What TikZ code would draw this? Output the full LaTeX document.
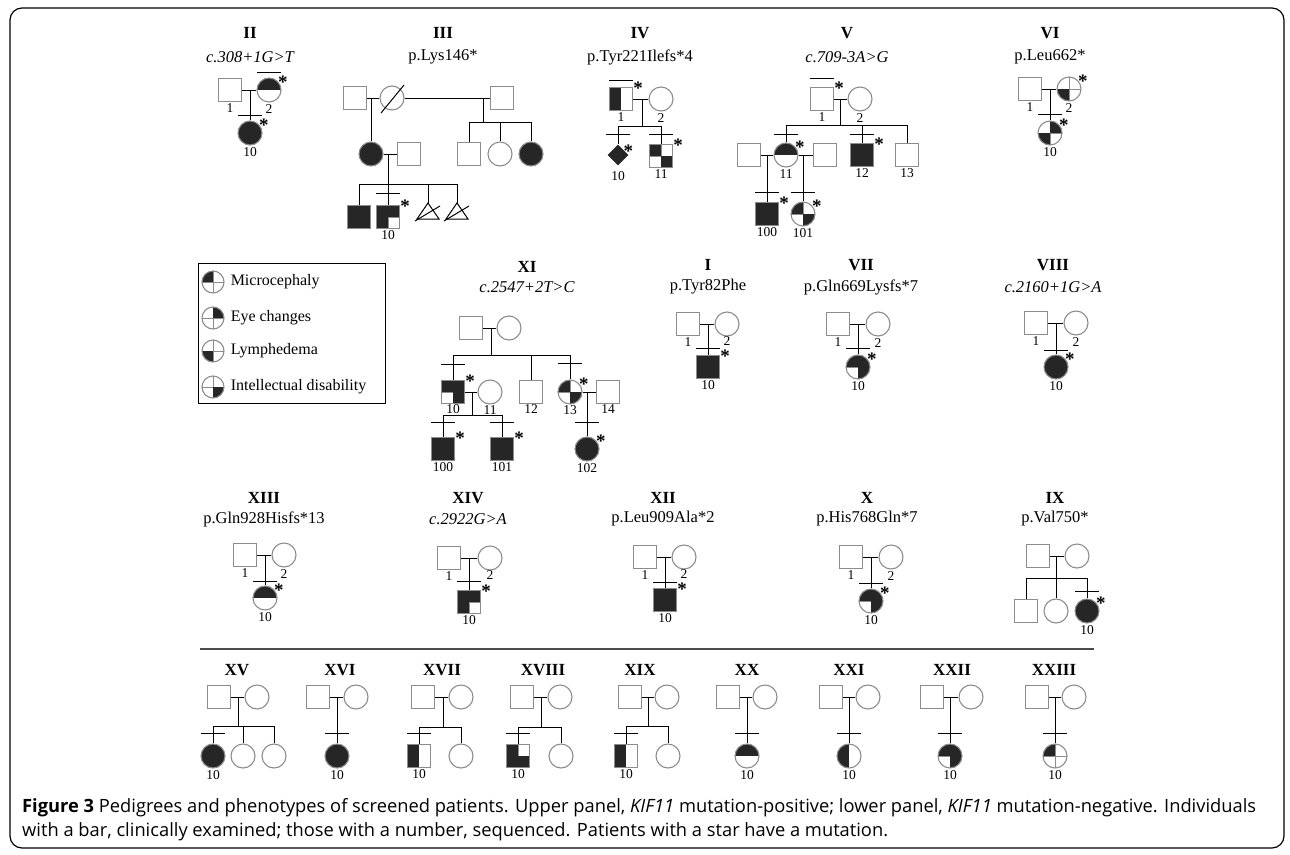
\documentclass[tikz,border=0pt]{standalone}
\usepackage{fontspec}
\setmainfont{Liberation Serif}
\newfontfamily\capfont{Open Sans}
\usetikzlibrary{shapes.geometric,calc,positioning}
\definecolor{pedfill}{HTML}{262626}
\definecolor{pedgray}{HTML}{8C8C8C}
% bar over a clinically examined individual
\newcommand{\exam}[2]{\draw[pedline] ([xshift=-12pt,yshift=#2]#1.north) -- ([xshift=12pt,yshift=#2]#1.north);}
% star for a mutation carrier
\newcommand{\mutn}[1]{\node[mutstar] (#1s) at ([xshift=5pt,yshift=-1.5pt]#1.north east) {*};}

\begin{document}
\begin{tikzpicture}[x=1pt,y=-1pt,label distance=1pt,
    pedline/.style={line width=1pt,black},
    male/.style={rectangle,draw=pedgray,line width=1.1pt,minimum size=23pt,inner sep=0pt},
    female/.style={circle,draw=pedgray,line width=1.1pt,minimum size=24pt,inner sep=0pt},
    aff/.style={fill=pedfill},
    quads/.style={path picture={
      \draw[pedgray,line width=0.8pt] (path picture bounding box.north) -- (path picture bounding box.south)
        (path picture bounding box.west) -- (path picture bounding box.east);
      \foreach \q in {#1} \fill[pedfill] (path picture bounding box.center) rectangle (path picture bounding box.\q);}},
    halves/.style={path picture={
      \foreach \q in {#1} \fill[pedfill] (path picture bounding box.center) rectangle (path picture bounding box.\q);}},
    title/.style={font=\fontsize{17}{17}\selectfont\bfseries},
    mut/.style={font=\fontsize{16.5}{17}\selectfont},
    mutit/.style={font=\fontsize{16.5}{17}\selectfont\itshape},
    numlbl/.style={font=\fontsize{13.5}{13.5}\selectfont,inner sep=0.5pt},
    mutstar/.style={font=\fontsize{19}{19}\selectfont\bfseries,inner sep=0pt},
    legtext/.style={font=\fontsize{16}{16}\selectfont,inner sep=0pt,anchor=west}]
  \useasboundingbox (0,0) rectangle (1290,854);
  % Frame
  \draw[line width=1.2pt,rounded corners=12pt] (10,8) rectangle (1284,848);

  % Pedigree II
  \node[title] (tII) at (250,33) {II};
  \node[mutit] (mII) at (250,57) {c.308+1G>T};
  \node[male,label={[numlbl]below:1}] (II1) at (230,90) {};
  \node[female,halves={north west,north east},label={[numlbl]below:2}] (II2) at (269,90) {};
  \node[female,aff,label={[numlbl]below:10}] (II10) at (250,133) {};
  \coordinate (II12) at (II10 |- II1);
  \draw[pedline] (II1) -- (II2);
  \draw[pedline] (II12) -- (II10);
  \exam{II2}{5pt} \exam{II10}{5pt}
  \mutn{II2} \mutn{II10}

  % Pedigree III
  \node[title] (tIII) at (443,33) {III};
  \node[mut] (mIII) at (443,57) {p.Lys146*};
  \node[male] (IIIa) at (355,98) {};
  \node[female] (IIIb) at (392,98) {};
  \node[male] (IIIc) at (502,98) {};
  \node[female,aff] (IIId) at (371,154) {};
  \node[male] (IIIe) at (409,154) {};
  \node[male] (IIIf) at (469,154) {};
  \node[female] (IIIg) at (500,154) {};
  \node[female,aff] (IIIh) at (531,154) {};
  \node[male,aff] (III1) at (359,217) {};
  \node[male,quads={north west,north east,south west},label={[numlbl]below:10}] (III10) at (388,217) {};
  \coordinate (IIIm1) at (428,203);
  \coordinate (IIIm2) at (457,203);
  \draw[pedline] (IIIa) -- (IIIb);
  \draw[pedline] (IIIb) -- (IIIc);
  \draw[pedline] ($(IIIb)+(-11,15)$) -- ($(IIIb)+(12,-13)$);
  \coordinate (IIIab) at (IIId |- IIIa);
  \draw[pedline] (IIIab) -- (IIId);
  \coordinate (IIIbc) at (483,98);
  \coordinate (IIIs1) at (483,122);
  \draw[pedline] (IIIbc) -- (IIIs1);
  \draw[pedline] (IIIf |- IIIs1) -- (IIIh |- IIIs1);
  \foreach \c in {IIIf,IIIg,IIIh} \draw[pedline] (\c |- IIIs1) -- (\c);
  \draw[pedline] (IIId) -- (IIIe);
  \coordinate (IIIde) at (388,154);
  \coordinate (IIIs2) at (388,184);
  \draw[pedline] (IIIde) -- (IIIs2);
  \draw[pedline] (III1 |- IIIs2) -- (IIIm2 |- IIIs2);
  \foreach \c in {III1,III10,IIIm1,IIIm2} \draw[pedline] (\c |- IIIs2) -- (\c);
  \foreach \c in {IIIm1,IIIm2} {
    \draw[pedline] (\c) -- ++(-11,16) -- ++(22,0) -- cycle;
    \draw[pedline] ($(\c)+(-13,18)$) -- ($(\c)+(12,3)$);
  }
  \exam{III10}{11pt}
  \mutn{III10}

  % Pedigree IV
  \node[title] (tIV) at (640,33) {IV};
  \node[mut] (mIV) at (640,57) {p.Tyr221Ilefs*4};
  \node[male,halves={north west,south west},label={[numlbl]below:1}] (IV1) at (621,99) {};
  \node[female,label={[numlbl]below:2}] (IV2) at (661,99) {};
  \node[diamond,fill=pedfill,minimum size=21pt,inner sep=0pt,label={[numlbl,label distance=5pt]below:10}] (IV10) at (618,155) {};
  \node[male,quads={north west,south east},label={[numlbl]below:11}] (IV11) at (661,156) {};
  \coordinate (IV12) at (642,99);
  \coordinate (IVs) at (642,126);
  \draw[pedline] (IV1) -- (IV2);
  \draw[pedline] (IV12) -- (IVs);
  \draw[pedline] (IV10 |- IVs) -- (IV11 |- IVs);
  \foreach \c in {IV10,IV11} \draw[pedline] (\c |- IVs) -- (\c);
  \exam{IV1}{6pt} \exam{IV10}{10pt} \exam{IV11}{9pt}
  \mutn{IV1} \mutn{IV10} \mutn{IV11}

  % Pedigree V
  \node[title] (tV) at (847,33) {V};
  \node[mutit] (mV) at (847,57) {c.709-3A>G};
  \node[male,label={[numlbl]below:1}] (V1) at (822,99) {};
  \node[female,label={[numlbl]below:2}] (V2) at (860,99) {};
  \node[male] (Va) at (749,155) {};
  \node[female,halves={north west,north east},label={[numlbl]below:11}] (V11) at (786,155) {};
  \node[male] (Vb) at (825,155) {};
  \node[male,aff,label={[numlbl]below:12}] (V12) at (862,155) {};
  \node[male,label={[numlbl]below:13}] (V13) at (907,155) {};
  \node[male,aff,label={[numlbl]below:100}] (V100) at (767,214) {};
  \node[female,quads={north west,south east},label={[numlbl]below:101}] (V101) at (803,214) {};
  \coordinate (V12c) at (840,99);
  \coordinate (Vs) at (840,125);
  \draw[pedline] (V1) -- (V2);
  \draw[pedline] (V12c) -- (Vs);
  \draw[pedline] (V11 |- Vs) -- (V13 |- Vs);
  \foreach \c in {V11,V12,V13} \draw[pedline] (\c |- Vs) -- (\c);
  \draw[pedline] (Va) -- (V11);
  \draw[pedline] (V11) -- (Vb);
  \draw[pedline] (V100 |- Va) -- (V100);
  \draw[pedline] (V101 |- Vb) -- (V101);
  \exam{V1}{8pt} \exam{V11}{8pt} \exam{V12}{8pt} \exam{V100}{9pt} \exam{V101}{9pt}
  \mutn{V1} \mutn{V11} \mutn{V12} \mutn{V100} \mutn{V101}

  % Pedigree VI
  \node[title] (tVI) at (1050,33) {VI};
  \node[mut] (mVI) at (1050,57) {p.Leu662*};
  \node[male,label={[numlbl]below:1}] (VI1) at (1030,89) {};
  \node[female,quads={south west},label={[numlbl]below:2}] (VI2) at (1069,89) {};
  \node[female,quads={north east,south west},label={[numlbl]below:10}] (VI10) at (1050,133) {};
  \coordinate (VI12) at (VI10 |- VI1);
  \draw[pedline] (VI1) -- (VI2);
  \draw[pedline] (VI12) -- (VI10);
  \exam{VI10}{6pt}
  \mutn{VI2} \mutn{VI10}

  % Legend
  \node[draw,line width=1pt,minimum width=187pt,minimum height=140pt] (legbox) at (291.5,333) {};
  \node[female,quads={north west},minimum size=22pt] (leg1) at (213,282) {};
  \node[female,quads={north east},minimum size=22pt] (leg2) at (213,318) {};
  \node[female,quads={south west},minimum size=22pt] (leg3) at (213,351) {};
  \node[female,quads={south east},minimum size=22pt] (leg4) at (213,387) {};
  \node[legtext,right=6pt of leg1] (legt1) {Microcephaly};
  \node[legtext,right=6pt of leg2] (legt2) {Eye changes};
  \node[legtext,right=6pt of leg3] (legt3) {Lymphedema};
  \node[legtext,right=6pt of leg4] (legt4) {Intellectual disability};

  % Pedigree XI
  \node[title] (tXI) at (527,267) {XI};
  \node[mutit] (mXI) at (527,287) {c.2547+2T>C};
  \node[male] (XIa) at (471,328) {};
  \node[female] (XIb) at (509,328) {};
  \node[male,quads={north west,north east,south east},label={[numlbl,label distance=0pt]below:10}] (XI10) at (453,392) {};
  \node[female,label={[numlbl,label distance=0pt]below:11}] (XI11) at (490,392) {};
  \node[male,label={[numlbl,label distance=0pt]below:12}] (XI12) at (531,392) {};
  \node[female,quads={north west,south east},label={[numlbl,label distance=0pt]below:13}] (XI13) at (570,392) {};
  \node[male,label={[numlbl,label distance=0pt]below:14}] (XI14) at (608,392) {};
  \node[male,aff,label={[numlbl]below:100}] (XI100) at (443,449) {};
  \node[male,aff,label={[numlbl]below:101}] (XI101) at (502,449) {};
  \node[female,aff,label={[numlbl]below:102}] (XI102) at (587,449) {};
  \coordinate (XIab) at (491,328);
  \coordinate (XIs1) at (491,355);
  \draw[pedline] (XIa) -- (XIb);
  \draw[pedline] (XIab) -- (XIs1);
  \draw[pedline] (XI10 |- XIs1) -- (XI13 |- XIs1);
  \foreach \c in {XI10,XI12,XI13} \draw[pedline] (\c |- XIs1) -- (\c);
  \coordinate (XI1011) at (472,392);
  \coordinate (XIs2) at (472,415);
  \draw[pedline] (XI10) -- (XI11);
  \draw[pedline] (XI1011) -- (XIs2);
  \draw[pedline] (XI100 |- XIs2) -- (XI101 |- XIs2);
  \foreach \c in {XI100,XI101} \draw[pedline] (\c |- XIs2) -- (\c);
  \draw[pedline] (XI13) -- (XI14);
  \draw[pedline] (XI102 |- XI13) -- (XI102);
  \exam{XI10}{15pt} \exam{XI13}{16pt} \exam{XI100}{14pt} \exam{XI101}{14pt} \exam{XI102}{14pt}
  \mutn{XI10} \mutn{XI13} \mutn{XI100} \mutn{XI101} \mutn{XI102}

  % Pedigree I
  \node[title] (tI) at (708,265) {I};
  \node[mut] (mI) at (708,287) {p.Tyr82Phe};
  \node[male,label={[numlbl]below:1}] (I1) at (688,324) {};
  \node[female,label={[numlbl,label distance=-1pt]below:2}] (I2) at (727,324) {};
  \node[male,aff,label={[numlbl]below:10}] (I10) at (708,367) {};
  \coordinate (I12) at (I10 |- I1);
  \draw[pedline] (I1) -- (I2);
  \draw[pedline] (I12) -- (I10);
  \exam{I10}{6pt}
  \mutn{I10}

  % Pedigree VII
  \node[title] (tVII) at (861,265) {VII};
  \node[mut] (mVII) at (861,287) {p.Gln669Lysfs*7};
  \node[male,label={[numlbl]below:1}] (VII1) at (838,324) {};
  \node[female,label={[numlbl]below:2}] (VII2) at (878,324) {};
  \node[female,quads={north west,north east,south east},label={[numlbl]below:10}] (VII10) at (858,367) {};
  \coordinate (VII12) at (VII10 |- VII1);
  \draw[pedline] (VII1) -- (VII2);
  \draw[pedline] (VII12) -- (VII10);
  \exam{VII10}{6pt}
  \mutn{VII10}

  % Pedigree VIII
  \node[title] (tVIII) at (1053,265) {VIII};
  \node[mutit] (mVIII) at (1053,287) {c.2160+1G>A};
  \node[male,label={[numlbl]below:1}] (VIII1) at (1036,323) {};
  \node[female,label={[numlbl]below:2}] (VIII2) at (1076,323) {};
  \node[female,aff,label={[numlbl]below:10}] (VIII10) at (1056,367) {};
  \coordinate (VIII12) at (VIII10 |- VIII1);
  \draw[pedline] (VIII1) -- (VIII2);
  \draw[pedline] (VIII12) -- (VIII10);
  \exam{VIII10}{4pt}
  \mutn{VIII10}

  % Pedigree XIII
  \node[title] (tXIII) at (264,498) {XIII};
  \node[mut] (mXIII) at (264,519) {p.Gln928Hisfs*13};
  \node[male,label={[numlbl]below:1}] (XIII1) at (245,555) {};
  \node[female,label={[numlbl]below:2}] (XIII2) at (284,555) {};
  \node[female,halves={north west,north east},label={[numlbl]below:10}] (XIII10) at (265,598) {};
  \coordinate (XIII12) at (XIII10 |- XIII1);
  \draw[pedline] (XIII1) -- (XIII2);
  \draw[pedline] (XIII12) -- (XIII10);
  \exam{XIII10}{4pt}
  \mutn{XIII10}

  % Pedigree XIV
  \node[title] (tXIV) at (468,498) {XIV};
  \node[mutit] (mXIV) at (468,519) {c.2922G>A};
  \node[male,label={[numlbl]below:1}] (XIV1) at (449,558) {};
  \node[female,label={[numlbl,label distance=-1pt]below:2}] (XIV2) at (490,558) {};
  \node[male,quads={north west,north east,south west},label={[numlbl]below:10}] (XIV10) at (469,602) {};
  \coordinate (XIV12) at (XIV10 |- XIV1);
  \draw[pedline] (XIV1) -- (XIV2);
  \draw[pedline] (XIV12) -- (XIV10);
  \exam{XIV10}{8pt}
  \mutn{XIV10}

  % Pedigree XII
  \node[title] (tXII) at (663,498) {XII};
  \node[mut] (mXII) at (663,519) {p.Leu909Ala*2};
  \node[male,label={[numlbl]below:1}] (XII1) at (645,557) {};
  \node[female,label={[numlbl,label distance=-1pt]below:2}] (XII2) at (684,557) {};
  \node[male,aff,label={[numlbl]below:10}] (XII10) at (665,600) {};
  \coordinate (XII12) at (XII10 |- XII1);
  \draw[pedline] (XII1) -- (XII2);
  \draw[pedline] (XII12) -- (XII10);
  \exam{XII10}{5pt}
  \mutn{XII10}

  % Pedigree X
  \node[title] (tX) at (867,498) {X};
  \node[mut] (mX) at (867,519) {p.His768Gln*7};
  \node[male,label={[numlbl]below:1}] (X1) at (851,557) {};
  \node[female,label={[numlbl]below:2}] (X2) at (891,557) {};
  \node[female,quads={north west,north east,south east},label={[numlbl]below:10}] (X10) at (871,601) {};
  \coordinate (X12) at (X10 |- X1);
  \draw[pedline] (X1) -- (X2);
  \draw[pedline] (X12) -- (X10);
  \exam{X10}{5pt}
  \mutn{X10}

  % Pedigree IX
  \node[title] (tIX) at (1055,498) {IX};
  \node[mut] (mIX) at (1055,519) {p.Val750*};
  \node[male] (IX1) at (1038,556) {};
  \node[female] (IX2) at (1077,556) {};
  \node[male] (IXa) at (1026,611) {};
  \node[female] (IXb) at (1056,611) {};
  \node[female,aff,label={[numlbl]below:10}] (IX10) at (1087,611) {};
  \coordinate (IX12) at (IXb |- IX1);
  \coordinate (IXs) at (1056,578);
  \draw[pedline] (IX1) -- (IX2);
  \draw[pedline] (IX12) -- (IXs);
  \draw[pedline] (IXa |- IXs) -- (IX10 |- IXs);
  \foreach \c in {IXa,IXb,IX10} \draw[pedline] (\c |- IXs) -- (\c);
  \exam{IX10}{7pt}
  \mutn{IX10}

  % Separator between panels
  \draw[line width=1.2pt,black!70] (200,649) -- (1094,649);

  % Pedigree XV
  \node[title] (tXV) at (237,670) {XV};
  \node[male] (XV1) at (219,697) {};
  \node[female] (XV2) at (257,697) {};
  \node[female,aff,label={[numlbl]below:10}] (XV10) at (213,756) {};
  \node[female] (XVa) at (243,756) {};
  \node[female] (XVb) at (274,756) {};
  \coordinate (XV12) at (238,697);
  \coordinate (XVs) at (238,726);
  \draw[pedline] (XV1) -- (XV2);
  \draw[pedline] (XV12) -- (XVs);
  \draw[pedline] (XV10 |- XVs) -- (XVb |- XVs);
  \foreach \c in {XV10,XVa,XVb} \draw[pedline] (\c |- XVs) -- (\c);
  \exam{XV10}{10pt}

  % Pedigree XVI
  \node[title] (tXVI) at (340,670) {XVI};
  \node[male] (XVI1) at (318,697) {};
  \node[female] (XVI2) at (356,697) {};
  \node[female,aff,label={[numlbl]below:10}] (XVI10) at (337,756) {};
  \coordinate (XVI12) at (XVI10 |- XVI1);
  \draw[pedline] (XVI1) -- (XVI2);
  \draw[pedline] (XVI12) -- (XVI10);
  \exam{XVI10}{10pt}

  % Pedigree XVII
  \node[title] (tXVII) at (442,670) {XVII};
  \node[male] (XVII1) at (423,697) {};
  \node[female] (XVII2) at (461,697) {};
  \node[male,halves={north west,south west},label={[numlbl]below:10}] (XVII10) at (419,756) {};
  \node[female] (XVIIa) at (461,756) {};
  \coordinate (XVII12) at (443,697);
  \coordinate (XVIIs) at (443,727);
  \draw[pedline] (XVII1) -- (XVII2);
  \draw[pedline] (XVII12) -- (XVIIs);
  \draw[pedline] (XVII10 |- XVIIs) -- (XVIIa |- XVIIs);
  \foreach \c in {XVII10,XVIIa} \draw[pedline] (\c |- XVIIs) -- (\c);
  \exam{XVII10}{10pt}

  % Pedigree XVIII
  \node[title] (tXVIII) at (543,670) {XVIII};
  \node[male] (XVIII1) at (522,697) {};
  \node[female] (XVIII2) at (560,697) {};
  \node[male,quads={north west,south west,south east},label={[numlbl]below:10}] (XVIII10) at (518,756) {};
  \node[female] (XVIIIa) at (561,756) {};
  \coordinate (XVIII12) at (541,697);
  \coordinate (XVIIIs) at (541,727);
  \draw[pedline] (XVIII1) -- (XVIII2);
  \draw[pedline] (XVIII12) -- (XVIIIs);
  \draw[pedline] (XVIII10 |- XVIIIs) -- (XVIIIa |- XVIIIs);
  \foreach \c in {XVIII10,XVIIIa} \draw[pedline] (\c |- XVIIIs) -- (\c);
  \exam{XVIII10}{10pt}

  % Pedigree XIX
  \node[title] (tXIX) at (640,670) {XIX};
  \node[male] (XIX1) at (630,697) {};
  \node[female] (XIX2) at (667,697) {};
  \node[male,halves={north west,south west},label={[numlbl]below:10}] (XIX10) at (626,756) {};
  \node[female] (XIXa) at (668,756) {};
  \coordinate (XIX12) at (648,697);
  \coordinate (XIXs) at (648,726);
  \draw[pedline] (XIX1) -- (XIX2);
  \draw[pedline] (XIX12) -- (XIXs);
  \draw[pedline] (XIX10 |- XIXs) -- (XIXa |- XIXs);
  \foreach \c in {XIX10,XIXa} \draw[pedline] (\c |- XIXs) -- (\c);
  \exam{XIX10}{10pt}

  % Pedigree XX
  \node[title] (tXX) at (747,670) {XX};
  \node[male] (XX1) at (728,697) {};
  \node[female] (XX2) at (765,697) {};
  \node[female,halves={north west,north east},label={[numlbl]below:10}] (XX10) at (747,756) {};
  \coordinate (XX12) at (XX10 |- XX1);
  \draw[pedline] (XX1) -- (XX2);
  \draw[pedline] (XX12) -- (XX10);
  \exam{XX10}{10pt}

  % Pedigree XXI
  \node[title] (tXXI) at (849,670) {XXI};
  \node[male] (XXI1) at (831,697) {};
  \node[female] (XXI2) at (868,697) {};
  \node[female,halves={north west,south west},label={[numlbl]below:10}] (XXI10) at (849,756) {};
  \coordinate (XXI12) at (XXI10 |- XXI1);
  \draw[pedline] (XXI1) -- (XXI2);
  \draw[pedline] (XXI12) -- (XXI10);
  \exam{XXI10}{10pt}

  % Pedigree XXII
  \node[title] (tXXII) at (952,670) {XXII};
  \node[male] (XXII1) at (932,697) {};
  \node[female] (XXII2) at (971,697) {};
  \node[female,quads={north west,north east,south east},label={[numlbl]below:10}] (XXII10) at (950,756) {};
  \coordinate (XXII12) at (XXII10 |- XXII1);
  \draw[pedline] (XXII1) -- (XXII2);
  \draw[pedline] (XXII12) -- (XXII10);
  \exam{XXII10}{10pt}

  % Pedigree XXIII
  \node[title] (tXXIII) at (1054,670) {XXIII};
  \node[male] (XXIII1) at (1037,697) {};
  \node[female] (XXIII2) at (1074,697) {};
  \node[female,quads={north west},label={[numlbl]below:10}] (XXIII10) at (1055,756) {};
  \coordinate (XXIII12) at (XXIII10 |- XXIII1);
  \draw[pedline] (XXIII1) -- (XXIII2);
  \draw[pedline] (XXIII12) -- (XXIII10);
  \exam{XXIII10}{10pt}

  % Caption
  \node[anchor=base west,inner sep=0pt,font=\capfont\fontsize{18.3}{20}\selectfont] (cap1) at (22,812)
    {\textbf{Figure 3} Pedigrees and phenotypes of screened patients. Upper panel, \emph{KIF11} mutation-positive; lower panel, \emph{KIF11} mutation-negative. Individuals};
  \node[anchor=base west,inner sep=0pt,font=\capfont\fontsize{18.3}{20}\selectfont] (cap2) at (22,836)
    {with a bar, clinically examined; those with a number, sequenced. Patients with a star have a mutation.};
\end{tikzpicture}
\end{document}
